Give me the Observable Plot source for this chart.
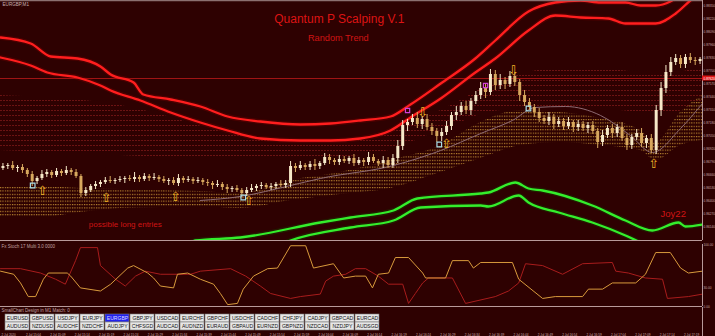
<!DOCTYPE html>
<html><head><meta charset="utf-8">
<script src="https://cdn.jsdelivr.net/npm/d3@7"></script>
<script src="https://cdn.jsdelivr.net/npm/@observablehq/plot@0.6"></script>
<style>
html,body{margin:0;padding:0;background:#2e0101;}
#chart{position:relative;width:715px;height:336px;overflow:hidden;background:#2e0101;font-family:"Liberation Sans",Arial,sans-serif;}
#chart svg{position:absolute;left:0;}
</style></head><body><div id="chart"></div>
<script>
// ---------- DATA (prices in pips above 0.86000, x in bar units) ----------
const firstOpen = 72;
const closes = [
 74,75,72,73,70,66,59,62,66,68,
 65,69,67,70,68,64,47,50,54,56,
 58,60,59,60,61,62,61,63,61,64,
 62,63,61,59,60,57,62,60,61,59,
 60,58,57,55,56,53,51,52,50,47,
 50,52,54,55,53,54,56,55,57,74,
 72,75,73,76,74,77,83,80,78,81,
 79,82,77,80,78,83,79,77,80,75,
 82,94,115,118,122,116,121,113,109,104,
 108,114,125,128,134,130,139,145,152,148,
 166,155,160,156,164,158,145,138,133,128,
 122,119,123,116,119,114,118,113,116,112,
 115,109,98,105,112,107,113,102,95,103,
 107,97,102,90,130,152,168,178,182,176,
 183,180,179,181];
const wickHigh = [
 3,2,4,2,3,2,3,2,4,3, 2,3,2,4,2,3,2,3,2,3, 2,3,4,2,3,2,3,5,2,3, 2,4,2,3,2,3,4,2,3,2,
 3,2,3,2,4,2,3,2,3,2, 3,4,2,3,2,3,2,4,3,5, 3,4,2,3,5,2,4,3,2,4, 3,2,4,3,2,5,3,2,4,3,
 4,6,5,3,4,6,3,5,4,3, 4,5,3,6,4,5,3,4,6,5, 5,4,6,3,5,4,3,5,4,3, 4,3,5,3,4,3,5,2,4,3,
 3,4,3,5,3,4,3,5,4,3, 4,5,3,4,5,6,7,5,4,3, 3,4,3,2];
const wickLow = [
 2,3,2,4,3,3,5,3,2,3, 3,2,3,2,3,2,4,3,2,3, 3,2,2,3,2,4,2,3,3,2, 3,2,3,2,4,2,3,3,2,3,
 2,3,3,4,2,3,4,3,2,4, 3,2,3,3,2,3,3,2,3,4, 4,2,3,3,4,3,2,4,3,3, 2,3,3,2,4,3,2,3,5,3,
 3,5,4,6,3,4,5,3,4,6, 5,3,4,5,3,4,5,3,4,6, 3,5,4,5,3,4,6,4,3,5, 4,3,4,5,3,4,3,5,4,3,
 5,3,6,4,3,5,4,3,5,4, 3,4,5,3,4,6,5,4,3,4, 4,3,4,3];
const envUpperA = [[0,203],[6.2,197],[10.3,184],[15.8,182],[20.5,174],[22.6,166],[27.3,158],[29.3,146],[34.9,141],[41,134],[46.6,124],[53.3,119],[61.5,116],[67.7,117],[73.8,120],[80,124],[84.1,136],[90.3,157],[97.4,182],[101.5,200],[108.3,229],[113.8,238],[119,240],[123.1,238],[128.2,238],[131.3,235],[134.4,235],[137.4,239],[139.5,246],[144,258]];
const envUpperB = [[0,183],[6.2,175],[9.6,168],[15.8,163],[20.5,155],[22.6,150],[28.7,140],[34.9,128],[41,118],[46.6,110],[53.3,102],[61.5,100],[67.7,100],[73.8,102],[80,110],[84.1,123],[90.3,142],[97.4,168],[101.5,182],[108.3,210],[113.8,225],[119,223],[124.7,222],[128.2,217],[134.4,217],[138.5,227],[141.5,240],[144,250]];
const envLowerA = [[38,-5],[40,0],[49.2,3],[65.6,18],[71.8,23],[80.6,30],[85.5,42],[98.5,47],[100.1,48],[105.6,58],[108.3,52],[111.2,50],[121.4,35],[128.2,20],[133.7,10],[139.1,18],[140.5,14],[144,16]];
const envLowerB = [[57,-5],[59.5,0],[71.8,13],[80.6,20],[86.2,33],[98.5,35],[100.1,34],[106.3,45],[108.3,38],[114.5,28],[121.4,18],[128.2,5],[131.3,-2]];
const goldRibbon = [[0,54,23],[8.2,54,23],[16.4,52,28],[24.6,51,32],[32.8,50,33],[41,49,34],[49.2,47,32],[59.5,60,40],[69.7,68,46],[80,80,52],[90.3,95,68],[98.5,118,82],[106.7,130,95],[114.9,128,98],[123.1,122,95],[131.3,110,90],[134.4,98,80],[139.5,128,95],[144,145,100]];
const redRibbon = [[0,145,90],[24.6,135,85],[49.2,105,80],[65.6,95,82],[78,105,88],[90.3,130,110],[102.6,160,130],[114.9,172,132],[127.2,170,130],[135.4,165,125],[144,175,140]];
const greyLine = [[41,40],[49.2,44],[59.5,55],[65.6,62],[80.6,75],[90.3,90],[98.5,107],[105,120],[109.7,133],[115.9,134],[123.1,125],[129.2,105],[133.7,88],[139.5,112],[144,137]];
const bidLevel = 162;
const bidLabel = "0.87620";
const upArrows = [[8.6,50],[21.7,43],[35.9,44],[50.9,40],[91.5,97],[134,77]];
const downArrows = [[86.6,128],[105.2,170]];
const cyanSquares = [[6.6,55],[49.8,43],[90,96],[108.3,132]];
const magentaSquares = [[83.5,130],[99.5,155]];
const priceTicks = [235,222,209,196,183,170,157,144,131,118,105,92,79,66,53,40,27,14];
const priceLabels = ["0.88350","0.88220","0.88090","0.87960","0.87830","0.87700","0.87570","0.87440","0.87310","0.87180","0.87050","0.86920","0.86790","0.86660","0.86530","0.86400","0.86270","0.86140"];
const oscOrange = [[0,57],[2.7,52],[4.1,38],[5.7,16],[7.2,16],[8.8,44],[9.8,54],[13.7,54],[14.4,49],[16.4,30],[20.5,25],[22.6,36],[26.1,62],[27.3,66],[30.2,54],[31.4,46],[32.8,33],[35.5,30],[36.3,52],[38.4,54],[41,44],[43.7,36],[45.1,21],[46.6,3],[48.6,5],[49.8,28],[51.9,49],[54.8,61],[56.8,62],[59.5,98],[62.6,98],[64.2,62],[68.3,69],[70.4,46],[72.8,49],[74.9,49],[76.3,30],[77.5,52],[79.6,54],[81,79],[83.7,79],[86.6,54],[87.2,46],[91.3,46],[92.7,74],[96,74],[97,62],[98.5,71],[105,71],[106.3,44],[111.2,13],[113.8,16],[119.4,16],[120.6,28],[123.5,28],[125.5,38],[130.3,38],[132.3,52],[134.4,87],[137.4,87],[139.5,62],[141.1,54],[144,57]];
const oscRed = [[0,61],[4.1,61],[8.2,54],[11.3,44],[13.3,36],[15.4,74],[16.4,95],[19.9,95],[20.5,66],[23.6,44],[25.6,33],[27.7,49],[29.7,57],[32.8,52],[39,52],[41,57],[47.2,61],[50.3,49],[53.3,33],[55.4,21],[59.5,13],[61.5,16],[65.6,20],[66.7,41],[68.3,49],[70.8,52],[72.8,61],[74.9,61],[77.5,49],[79.6,36],[82.5,36],[83.7,5],[85.1,21],[86.6,38],[87.8,46],[92.7,46],[95.4,5],[101.5,16],[104.2,25],[106.3,38],[107.7,69],[111.2,66],[115.3,52],[119.4,69],[125.5,71],[126.2,57],[128.8,54],[132.3,46],[135.8,44],[136.8,13],[141.1,16],[144,20]];
const oscTicks = [100,30,0];
const oscTickLabels = ["100.00","30.00","0.00"];
const pairsRow1 = ["EURUSD","GBPUSD","USDJPY","EURJPY","EURGBP","GBPJPY","USDCAD","EURCHF","GBPCHF","USDCHF","CADCHF","CHFJPY","CADJPY","GBPCAD","EURCAD"];
const pairsRow2 = ["AUDUSD","NZDUSD","AUDCHF","NZDCHF","AUDJPY","CHFSGD","AUDCAD","AUDNZD","EURAUD","GBPAUD","EURNZD","GBPNZD","NZDCAD","NZDJPY","AUDSGD"];
const selectedPair = "EURGBP";
const timeTicks = [0,5,10,15,20,25,30,35,40,45,50,55,60,65,70,75,80,85,90,95,100,105,110,115,120,125,130,135,140];
const timeLabels = ["2 Jul 2020","2 Jul 15:04","2 Jul 15:09","2 Jul 15:14","2 Jul 15:19","2 Jul 15:24","2 Jul 15:29","2 Jul 15:34","2 Jul 15:39","2 Jul 15:44","2 Jul 15:49","2 Jul 15:54","2 Jul 15:59","2 Jul 16:04","2 Jul 16:09","2 Jul 16:14","2 Jul 16:19","2 Jul 16:24","2 Jul 16:29","2 Jul 16:34","2 Jul 16:39","2 Jul 16:44","2 Jul 16:49","2 Jul 16:54","2 Jul 16:59","2 Jul 17:04","2 Jul 17:09","2 Jul 17:14","2 Jul 17:19"];

// ---------- BUILD ----------
const candles = closes.map((c, i) => {
  const open = i ? closes[i - 1] : firstOpen;
  return {i, open, close: c, high: Math.max(open, c) + wickHigh[i], low: Math.min(open, c) - wickLow[i]};
});
const X = d => d[0], Y = d => d[1];
const baseStyle = {background: "transparent", fontFamily: "Liberation Sans, Arial, sans-serif", overflow: "visible"};
const axisCol = "#b89a9a";
const upCol = "#f6e8c8", downCol = "#d8a85e";
const chart = document.getElementById("chart");

const main = Plot.plot({
  width: 715, height: 241, marginTop: 0, marginBottom: 1, marginLeft: 0, marginRight: 13,
  x: {domain: [0, 144], axis: null},
  y: {domain: [0, 240], axis: null},
  color: {type: "identity"},
  style: baseStyle,
  marks: [
    Plot.areaY(redRibbon, {x: X, y1: d => d[2], y2: d => d[1], curve: "monotone-x", fill: "url(#redLines)", clip: true}),
    Plot.areaY(goldRibbon, {x: X, y1: d => d[2], y2: d => d[1], curve: "monotone-x", fill: "url(#goldDots)", clip: true}),
    Plot.ruleY([bidLevel], {stroke: "#a01414", strokeWidth: 1}),
    Plot.line(greyLine, {x: X, y: Y, curve: "monotone-x", stroke: "#8e6a72", strokeWidth: 1, clip: true}),
    Plot.line(envUpperA, {x: X, y: Y, curve: "monotone-x", stroke: "#8a0000", strokeWidth: 5, strokeOpacity: 0.3, clip: true}),
    Plot.line(envUpperB, {x: X, y: Y, curve: "monotone-x", stroke: "#8a0000", strokeWidth: 5, strokeOpacity: 0.3, clip: true}),
    Plot.line(envUpperA, {x: X, y: Y, curve: "monotone-x", stroke: "#ff1e1e", strokeWidth: 2.3, clip: true}),
    Plot.line(envUpperB, {x: X, y: Y, curve: "monotone-x", stroke: "#ff1e1e", strokeWidth: 2.3, clip: true}),
    Plot.line(envLowerA, {x: X, y: Y, curve: "monotone-x", stroke: "#0c5a00", strokeWidth: 5, strokeOpacity: 0.3, clip: true}),
    Plot.line(envLowerB, {x: X, y: Y, curve: "monotone-x", stroke: "#0c5a00", strokeWidth: 5, strokeOpacity: 0.3, clip: true}),
    Plot.line(envLowerA, {x: X, y: Y, curve: "monotone-x", stroke: "#34ee2c", strokeWidth: 2.3, clip: true}),
    Plot.line(envLowerB, {x: X, y: Y, curve: "monotone-x", stroke: "#34ee2c", strokeWidth: 2.3, clip: true}),
    Plot.ruleX(candles, {x: d => d.i + 0.5, y1: "low", y2: "high", strokeWidth: 1,
      stroke: d => d.close > d.open ? upCol : downCol}),
    Plot.ruleX(candles, {x: d => d.i + 0.5, y1: "open", y2: "close", strokeWidth: 3,
      stroke: d => d.close > d.open ? upCol : downCol}),
    Plot.text(upArrows, {x: X, y: Y, text: () => "\u21E7", fill: "#f0b428", fontSize: 13, fontFamily: "DejaVu Sans"}),
    Plot.text(downArrows, {x: X, y: Y, text: () => "\u21E9", fill: "#f0b428", fontSize: 13, fontFamily: "DejaVu Sans"}),
    Plot.dot(cyanSquares, {x: X, y: Y, symbol: "square", r: 2.6, stroke: "#a8dde8", strokeWidth: 1.2, fill: "none"}),
    Plot.dot(magentaSquares, {x: X, y: Y, symbol: "square", r: 2.4, stroke: "#d040d8", strokeWidth: 1.2, fill: "none"}),
    Plot.text(["Quantum P Scalping V.1"], {x: 69.5, y: 221, text: d => d, fill: "#dd1414", fontSize: 12}),
    Plot.text(["Random Trend"], {x: 69.3, y: 202, text: d => d, fill: "#d01414", fontSize: 9.2}),
    Plot.text(["possible long entries"], {x: 25.6, y: 16, text: d => d, fill: "#d01414", fontSize: 8}),
    Plot.text(["Joy22"], {x: 138, y: 27, text: d => d, fill: "#d01414", fontSize: 9.5}),
    Plot.text(["EURGBP,M1"], {frameAnchor: "top-left", dx: 2, dy: 2, lineAnchor: "top", text: d => d, fill: "#c8b0b0", fontSize: 4.6}),
    Plot.ruleY([240], {stroke: "#8c7070", strokeWidth: 1.5}),
    Plot.ruleY([0], {stroke: axisCol, strokeWidth: 1}),
    Plot.ruleX([144], {stroke: axisCol, strokeWidth: 1}),
    Plot.text(priceTicks, {y: d => d, text: (d, i) => priceLabels[i], frameAnchor: "right", dx: 1, textAnchor: "start", fontSize: 3.2, fill: "#c8a8a8"}),
    Plot.rect([bidLevel], {x1: 144, x2: 147, y1: d => d - 2.5, y2: d => d + 2.5, fill: "#e01515"}),
    Plot.text([bidLevel], {y: d => d, text: () => bidLabel, frameAnchor: "right", dx: 1, textAnchor: "start", fontSize: 3.2, fill: "#ffffff"})
  ]
});
const ns = "http://www.w3.org/2000/svg";
const defs = document.createElementNS(ns, "defs");
defs.innerHTML = '<pattern id="goldDots" width="2.4" height="3.4" patternUnits="userSpaceOnUse"><rect width="1.2" height="1.1" fill="#d9a23a" fill-opacity="0.85"/></pattern>' +
  '<pattern id="redLines" width="3" height="5" patternUnits="userSpaceOnUse"><rect width="2" height="1" fill="#7a1818" fill-opacity="0.8"/></pattern>';
main.insertBefore(defs, main.firstChild);
main.style.top = "0px";
chart.appendChild(main);

const osc = Plot.plot({
  width: 715, height: 66, marginTop: 3, marginBottom: 1, marginLeft: 0, marginRight: 13,
  x: {domain: [0, 144], axis: null},
  y: {domain: [0, 100], axis: null},
  style: baseStyle,
  marks: [
    Plot.line(oscRed, {x: X, y: Y, stroke: "#a81c1c", strokeWidth: 1}),
    Plot.line(oscOrange, {x: X, y: Y, stroke: "#d89a3c", strokeWidth: 1}),
    Plot.ruleY([0], {stroke: axisCol, strokeWidth: 1.2}),
    Plot.ruleX([144], {stroke: axisCol, strokeWidth: 1}),
    Plot.text(["Fx Stoch 17 Multi 3.0 0000"], {frameAnchor: "top-left", dx: 1, dy: 0, lineAnchor: "top", text: d => d, fill: "#c0a0a0", fontSize: 4.5}),
    Plot.text(oscTicks, {y: d => d, text: (d, i) => oscTickLabels[i], frameAnchor: "right", dx: 1, textAnchor: "start", fontSize: 3.2, fill: "#c8a8a8"})
  ]
});
osc.style.top = "241px";
chart.appendChild(osc);

const btnData = [...pairsRow1.map((p, i) => ({col: i, row: 0, p})), ...pairsRow2.map((p, i) => ({col: i, row: 1, p}))];
const buttons = Plot.plot({
  width: 715, height: 25, marginTop: 6, marginBottom: 2, marginLeft: 4, marginRight: 334.5,
  x: {type: "band", domain: pairsRow1.map((p, i) => i), padding: 0.05, axis: null},
  y: {type: "band", domain: [0, 1], padding: 0.06, axis: null},
  color: {type: "identity"},
  style: baseStyle,
  marks: [
    Plot.cell(btnData, {x: "col", y: "row", fill: d => d.p === selectedPair ? "#2222ee" : "#e6e6e6", stroke: "#7a7a7a", strokeWidth: 0.6}),
    Plot.text(btnData, {x: "col", y: "row", text: "p", fontSize: 5.1, fill: d => d.p === selectedPair ? "#dcdcff" : "#141414"}),
    Plot.text(["SmallChart Design in M1 Match: 0"], {frameAnchor: "top-left", dx: -3, dy: -5, lineAnchor: "top", text: d => d, fill: "#c0a0a0", fontSize: 4.5})
  ]
});
buttons.style.top = "307px";
chart.appendChild(buttons);

const timeAxis = Plot.plot({
  width: 715, height: 29, marginTop: 0, marginBottom: 0, marginLeft: 0, marginRight: 13,
  x: {domain: [0, 144], axis: null},
  y: {domain: [0, 1], axis: null},
  style: baseStyle,
  marks: [
    Plot.ruleX([144], {stroke: axisCol, strokeWidth: 1}),
    Plot.text(timeTicks, {x: d => d, text: (d, i) => timeLabels[i], frameAnchor: "bottom", lineAnchor: "bottom", dy: -0.4, dx: 1, textAnchor: "start", fontSize: 3.1, fill: "#d0b0b0"})
  ]
});
timeAxis.style.top = "307px";
chart.appendChild(timeAxis);
</script></body></html>
